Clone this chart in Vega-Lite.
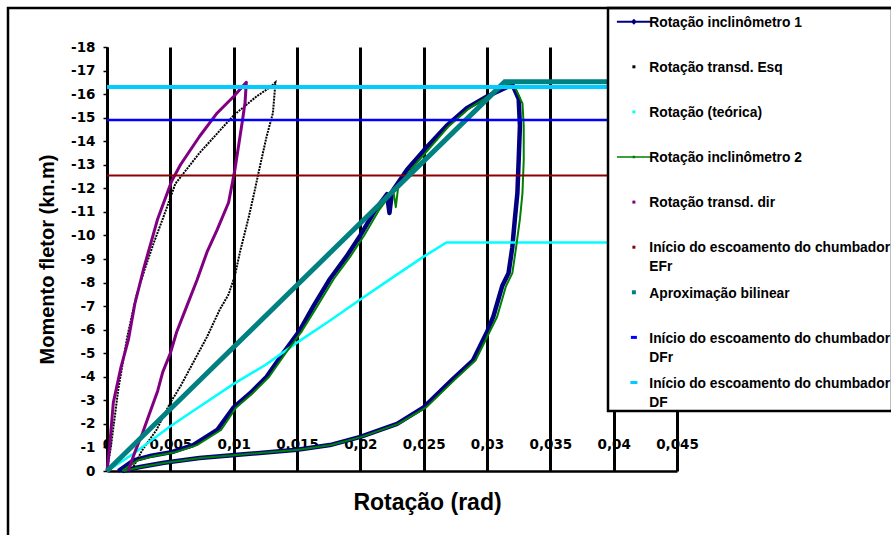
{
  "$schema": "https://vega.github.io/schema/vega-lite/v6.json",
  "width": 570,
  "height": 424,
  "autosize": {"type": "none"},
  "padding": {"left": 107, "top": 47, "right": 214, "bottom": 64},
  "background": "white",
  "config": {
    "view": {"stroke": null},
    "axis": {
      "labelFont": "DejaVu Sans", "labelFontWeight": "bold", "labelColor": "black",
      "titleFont": "Liberation Sans", "titleFontWeight": "bold", "titleColor": "black",
      "domainColor": "black", "tickColor": "black"
    },
    "legend": {
      "labelFont": "Liberation Sans", "labelFontWeight": "bold", "labelFontSize": 13.8,
      "labelColor": "black", "labelLimit": 400, "labelBaseline": "top", "labelOffset": 26.5,
      "symbolSize": 100, "symbolStrokeWidth": 0, "rowPadding": 5.1, "padding": 1,
      "strokeColor": "black", "fillColor": "white", "strokeWidth": 2.5
    },
    "style": {"guide-label": {"lineHeight": 19}}
  },
  "data": {"values": [
    {"s": "Rotação inclinômetro 1", "i": 1, "x": 0.0009, "y": 0},
    {"s": "Rotação inclinômetro 1", "i": 2, "x": 0.0021, "y": -0.45},
    {"s": "Rotação inclinômetro 1", "i": 3, "x": 0.0035, "y": -0.65},
    {"s": "Rotação inclinômetro 1", "i": 4, "x": 0.0051, "y": -0.8},
    {"s": "Rotação inclinômetro 1", "i": 5, "x": 0.0068, "y": -1.1},
    {"s": "Rotação inclinômetro 1", "i": 6, "x": 0.0087, "y": -1.74},
    {"s": "Rotação inclinômetro 1", "i": 7, "x": 0.01, "y": -2.7},
    {"s": "Rotação inclinômetro 1", "i": 8, "x": 0.0113, "y": -3.3},
    {"s": "Rotação inclinômetro 1", "i": 9, "x": 0.0126, "y": -4.0},
    {"s": "Rotação inclinômetro 1", "i": 10, "x": 0.0139, "y": -5.0},
    {"s": "Rotação inclinômetro 1", "i": 11, "x": 0.0152, "y": -5.95},
    {"s": "Rotação inclinômetro 1", "i": 12, "x": 0.0163, "y": -7.0},
    {"s": "Rotação inclinômetro 1", "i": 13, "x": 0.0176, "y": -8.15},
    {"s": "Rotação inclinômetro 1", "i": 14, "x": 0.0189, "y": -9.1},
    {"s": "Rotação inclinômetro 1", "i": 15, "x": 0.02, "y": -10.0},
    {"s": "Rotação inclinômetro 1", "i": 16, "x": 0.0212, "y": -11.1},
    {"s": "Rotação inclinômetro 1", "i": 17, "x": 0.0221, "y": -11.75},
    {"s": "Rotação inclinômetro 1", "i": 18, "x": 0.0223, "y": -10.95},
    {"s": "Rotação inclinômetro 1", "i": 19, "x": 0.0225, "y": -11.85},
    {"s": "Rotação inclinômetro 1", "i": 20, "x": 0.0237, "y": -12.8},
    {"s": "Rotação inclinômetro 1", "i": 21, "x": 0.025, "y": -13.6},
    {"s": "Rotação inclinômetro 1", "i": 22, "x": 0.0268, "y": -14.65},
    {"s": "Rotação inclinômetro 1", "i": 23, "x": 0.0284, "y": -15.4},
    {"s": "Rotação inclinômetro 1", "i": 24, "x": 0.03, "y": -15.9},
    {"s": "Rotação inclinômetro 1", "i": 25, "x": 0.0316, "y": -16.3},
    {"s": "Rotação inclinômetro 1", "i": 26, "x": 0.032, "y": -16.4},
    {"s": "Rotação inclinômetro 1", "i": 27, "x": 0.0325, "y": -15.8},
    {"s": "Rotação inclinômetro 1", "i": 28, "x": 0.0326, "y": -14.65},
    {"s": "Rotação inclinômetro 1", "i": 29, "x": 0.0325, "y": -13.2},
    {"s": "Rotação inclinômetro 1", "i": 30, "x": 0.0324, "y": -11.8},
    {"s": "Rotação inclinômetro 1", "i": 31, "x": 0.0322, "y": -10.7},
    {"s": "Rotação inclinômetro 1", "i": 32, "x": 0.032, "y": -9.5},
    {"s": "Rotação inclinômetro 1", "i": 33, "x": 0.0317, "y": -8.4},
    {"s": "Rotação inclinômetro 1", "i": 34, "x": 0.0312, "y": -7.85},
    {"s": "Rotação inclinômetro 1", "i": 35, "x": 0.0305, "y": -6.55},
    {"s": "Rotação inclinômetro 1", "i": 36, "x": 0.03, "y": -5.9},
    {"s": "Rotação inclinômetro 1", "i": 37, "x": 0.0289, "y": -4.7},
    {"s": "Rotação inclinômetro 1", "i": 38, "x": 0.0273, "y": -3.9},
    {"s": "Rotação inclinômetro 1", "i": 39, "x": 0.025, "y": -2.7},
    {"s": "Rotação inclinômetro 1", "i": 40, "x": 0.0229, "y": -2.0},
    {"s": "Rotação inclinômetro 1", "i": 41, "x": 0.02, "y": -1.45},
    {"s": "Rotação inclinômetro 1", "i": 42, "x": 0.0176, "y": -1.1},
    {"s": "Rotação inclinômetro 1", "i": 43, "x": 0.015, "y": -0.9},
    {"s": "Rotação inclinômetro 1", "i": 44, "x": 0.0101, "y": -0.68},
    {"s": "Rotação inclinômetro 1", "i": 45, "x": 0.0073, "y": -0.55},
    {"s": "Rotação inclinômetro 1", "i": 46, "x": 0.0045, "y": -0.35},
    {"s": "Rotação inclinômetro 1", "i": 47, "x": 0.0026, "y": -0.17},
    {"s": "Rotação inclinômetro 1", "i": 48, "x": 0.0012, "y": 0},

    {"s": "Rotação transd. Esq", "i": 1, "x": 0.0, "y": 0},
    {"s": "Rotação transd. Esq", "i": 2, "x": 0.0003, "y": -1.0},
    {"s": "Rotação transd. Esq", "i": 3, "x": 0.0009, "y": -3.5},
    {"s": "Rotação transd. Esq", "i": 4, "x": 0.0016, "y": -5.7},
    {"s": "Rotação transd. Esq", "i": 5, "x": 0.0023, "y": -7.4},
    {"s": "Rotação transd. Esq", "i": 6, "x": 0.003, "y": -8.6},
    {"s": "Rotação transd. Esq", "i": 7, "x": 0.0037, "y": -9.7},
    {"s": "Rotação transd. Esq", "i": 8, "x": 0.0044, "y": -10.7},
    {"s": "Rotação transd. Esq", "i": 9, "x": 0.0054, "y": -12.2},
    {"s": "Rotação transd. Esq", "i": 10, "x": 0.0073, "y": -13.5},
    {"s": "Rotação transd. Esq", "i": 11, "x": 0.01, "y": -15.1},
    {"s": "Rotação transd. Esq", "i": 12, "x": 0.0118, "y": -15.9},
    {"s": "Rotação transd. Esq", "i": 13, "x": 0.0129, "y": -16.3},
    {"s": "Rotação transd. Esq", "i": 14, "x": 0.0133, "y": -16.5},
    {"s": "Rotação transd. Esq", "i": 15, "x": 0.0131, "y": -15.2},
    {"s": "Rotação transd. Esq", "i": 16, "x": 0.0126, "y": -14.2},
    {"s": "Rotação transd. Esq", "i": 17, "x": 0.0121, "y": -13.0},
    {"s": "Rotação transd. Esq", "i": 18, "x": 0.0117, "y": -12.0},
    {"s": "Rotação transd. Esq", "i": 19, "x": 0.0112, "y": -10.8},
    {"s": "Rotação transd. Esq", "i": 20, "x": 0.0105, "y": -9.3},
    {"s": "Rotação transd. Esq", "i": 21, "x": 0.0101, "y": -8.3},
    {"s": "Rotação transd. Esq", "i": 22, "x": 0.0096, "y": -7.5},
    {"s": "Rotação transd. Esq", "i": 23, "x": 0.0089, "y": -6.85},
    {"s": "Rotação transd. Esq", "i": 24, "x": 0.0079, "y": -5.7},
    {"s": "Rotação transd. Esq", "i": 25, "x": 0.0068, "y": -4.6},
    {"s": "Rotação transd. Esq", "i": 26, "x": 0.0058, "y": -3.6},
    {"s": "Rotação transd. Esq", "i": 27, "x": 0.005, "y": -2.9},
    {"s": "Rotação transd. Esq", "i": 28, "x": 0.0039, "y": -1.74},
    {"s": "Rotação transd. Esq", "i": 29, "x": 0.0028, "y": -0.9},
    {"s": "Rotação transd. Esq", "i": 30, "x": 0.0021, "y": -0.2},
    {"s": "Rotação transd. Esq", "i": 31, "x": 0.0018, "y": 0},

    {"s": "Rotação (teórica)", "i": 1, "x": 0.0, "y": 0},
    {"s": "Rotação (teórica)", "i": 2, "x": 0.002, "y": -0.7},
    {"s": "Rotação (teórica)", "i": 3, "x": 0.005, "y": -1.9},
    {"s": "Rotação (teórica)", "i": 4, "x": 0.0075, "y": -2.8},
    {"s": "Rotação (teórica)", "i": 5, "x": 0.01, "y": -3.7},
    {"s": "Rotação (teórica)", "i": 6, "x": 0.0125, "y": -4.5},
    {"s": "Rotação (teórica)", "i": 7, "x": 0.015, "y": -5.45},
    {"s": "Rotação (teórica)", "i": 8, "x": 0.0175, "y": -6.35},
    {"s": "Rotação (teórica)", "i": 9, "x": 0.02, "y": -7.28},
    {"s": "Rotação (teórica)", "i": 10, "x": 0.0225, "y": -8.2},
    {"s": "Rotação (teórica)", "i": 11, "x": 0.025, "y": -9.1},
    {"s": "Rotação (teórica)", "i": 12, "x": 0.0268, "y": -9.7},
    {"s": "Rotação (teórica)", "i": 13, "x": 0.0405, "y": -9.7},

    {"s": "Rotação inclinômetro 2", "i": 1, "x": 0.0012, "y": 0},
    {"s": "Rotação inclinômetro 2", "i": 2, "x": 0.0024, "y": -0.45},
    {"s": "Rotação inclinômetro 2", "i": 3, "x": 0.0038, "y": -0.65},
    {"s": "Rotação inclinômetro 2", "i": 4, "x": 0.0054, "y": -0.8},
    {"s": "Rotação inclinômetro 2", "i": 5, "x": 0.0071, "y": -1.1},
    {"s": "Rotação inclinômetro 2", "i": 6, "x": 0.009, "y": -1.74},
    {"s": "Rotação inclinômetro 2", "i": 7, "x": 0.0102, "y": -2.7},
    {"s": "Rotação inclinômetro 2", "i": 8, "x": 0.0115, "y": -3.3},
    {"s": "Rotação inclinômetro 2", "i": 9, "x": 0.0128, "y": -4.0},
    {"s": "Rotação inclinômetro 2", "i": 10, "x": 0.0141, "y": -5.0},
    {"s": "Rotação inclinômetro 2", "i": 11, "x": 0.0154, "y": -5.95},
    {"s": "Rotação inclinômetro 2", "i": 12, "x": 0.0166, "y": -7.0},
    {"s": "Rotação inclinômetro 2", "i": 13, "x": 0.0179, "y": -8.15},
    {"s": "Rotação inclinômetro 2", "i": 14, "x": 0.0192, "y": -9.1},
    {"s": "Rotação inclinômetro 2", "i": 15, "x": 0.0203, "y": -10.0},
    {"s": "Rotação inclinômetro 2", "i": 16, "x": 0.0215, "y": -11.1},
    {"s": "Rotação inclinômetro 2", "i": 17, "x": 0.0226, "y": -11.9},
    {"s": "Rotação inclinômetro 2", "i": 18, "x": 0.0228, "y": -11.2},
    {"s": "Rotação inclinômetro 2", "i": 19, "x": 0.023, "y": -12.1},
    {"s": "Rotação inclinômetro 2", "i": 20, "x": 0.024, "y": -12.8},
    {"s": "Rotação inclinômetro 2", "i": 21, "x": 0.0253, "y": -13.6},
    {"s": "Rotação inclinômetro 2", "i": 22, "x": 0.027, "y": -14.65},
    {"s": "Rotação inclinômetro 2", "i": 23, "x": 0.0286, "y": -15.4},
    {"s": "Rotação inclinômetro 2", "i": 24, "x": 0.0302, "y": -15.95},
    {"s": "Rotação inclinômetro 2", "i": 25, "x": 0.0316, "y": -16.4},
    {"s": "Rotação inclinômetro 2", "i": 26, "x": 0.0322, "y": -16.3},
    {"s": "Rotação inclinômetro 2", "i": 27, "x": 0.0328, "y": -15.6},
    {"s": "Rotação inclinômetro 2", "i": 28, "x": 0.0329, "y": -14.65},
    {"s": "Rotação inclinômetro 2", "i": 29, "x": 0.0329, "y": -13.2},
    {"s": "Rotação inclinômetro 2", "i": 30, "x": 0.0328, "y": -11.8},
    {"s": "Rotação inclinômetro 2", "i": 31, "x": 0.0326, "y": -10.7},
    {"s": "Rotação inclinômetro 2", "i": 32, "x": 0.0323, "y": -9.5},
    {"s": "Rotação inclinômetro 2", "i": 33, "x": 0.032, "y": -8.4},
    {"s": "Rotação inclinômetro 2", "i": 34, "x": 0.0315, "y": -7.85},
    {"s": "Rotação inclinômetro 2", "i": 35, "x": 0.0308, "y": -6.55},
    {"s": "Rotação inclinômetro 2", "i": 36, "x": 0.0302, "y": -5.9},
    {"s": "Rotação inclinômetro 2", "i": 37, "x": 0.0291, "y": -4.7},
    {"s": "Rotação inclinômetro 2", "i": 38, "x": 0.0275, "y": -3.9},
    {"s": "Rotação inclinômetro 2", "i": 39, "x": 0.0252, "y": -2.7},
    {"s": "Rotação inclinômetro 2", "i": 40, "x": 0.023, "y": -2.0},
    {"s": "Rotação inclinômetro 2", "i": 41, "x": 0.0201, "y": -1.45},
    {"s": "Rotação inclinômetro 2", "i": 42, "x": 0.0177, "y": -1.1},
    {"s": "Rotação inclinômetro 2", "i": 43, "x": 0.0151, "y": -0.9},
    {"s": "Rotação inclinômetro 2", "i": 44, "x": 0.0102, "y": -0.68},
    {"s": "Rotação inclinômetro 2", "i": 45, "x": 0.0074, "y": -0.55},
    {"s": "Rotação inclinômetro 2", "i": 46, "x": 0.0046, "y": -0.35},
    {"s": "Rotação inclinômetro 2", "i": 47, "x": 0.0027, "y": -0.17},
    {"s": "Rotação inclinômetro 2", "i": 48, "x": 0.0013, "y": 0},

    {"s": "Rotação transd. dir", "i": 1, "x": 0.0, "y": 0},
    {"s": "Rotação transd. dir", "i": 2, "x": 0.0002, "y": -1.0},
    {"s": "Rotação transd. dir", "i": 3, "x": 0.0005, "y": -2.9},
    {"s": "Rotação transd. dir", "i": 4, "x": 0.0011, "y": -4.4},
    {"s": "Rotação transd. dir", "i": 5, "x": 0.0017, "y": -5.6},
    {"s": "Rotação transd. dir", "i": 6, "x": 0.0022, "y": -7.1},
    {"s": "Rotação transd. dir", "i": 7, "x": 0.0029, "y": -8.6},
    {"s": "Rotação transd. dir", "i": 8, "x": 0.004, "y": -10.7},
    {"s": "Rotação transd. dir", "i": 9, "x": 0.0051, "y": -12.3},
    {"s": "Rotação transd. dir", "i": 10, "x": 0.0058, "y": -13.0},
    {"s": "Rotação transd. dir", "i": 11, "x": 0.0073, "y": -14.2},
    {"s": "Rotação transd. dir", "i": 12, "x": 0.0087, "y": -15.2},
    {"s": "Rotação transd. dir", "i": 13, "x": 0.01, "y": -15.9},
    {"s": "Rotação transd. dir", "i": 14, "x": 0.011, "y": -16.5},
    {"s": "Rotação transd. dir", "i": 15, "x": 0.0109, "y": -15.65},
    {"s": "Rotação transd. dir", "i": 16, "x": 0.0107, "y": -14.9},
    {"s": "Rotação transd. dir", "i": 17, "x": 0.0105, "y": -14.2},
    {"s": "Rotação transd. dir", "i": 18, "x": 0.0101, "y": -12.8},
    {"s": "Rotação transd. dir", "i": 19, "x": 0.0096, "y": -11.4},
    {"s": "Rotação transd. dir", "i": 20, "x": 0.0087, "y": -10.25},
    {"s": "Rotação transd. dir", "i": 21, "x": 0.0079, "y": -9.3},
    {"s": "Rotação transd. dir", "i": 22, "x": 0.0071, "y": -8.1},
    {"s": "Rotação transd. dir", "i": 23, "x": 0.0063, "y": -7.0},
    {"s": "Rotação transd. dir", "i": 24, "x": 0.0055, "y": -5.9},
    {"s": "Rotação transd. dir", "i": 25, "x": 0.005, "y": -5.0},
    {"s": "Rotação transd. dir", "i": 26, "x": 0.0044, "y": -4.2},
    {"s": "Rotação transd. dir", "i": 27, "x": 0.004, "y": -3.4},
    {"s": "Rotação transd. dir", "i": 28, "x": 0.0034, "y": -2.5},
    {"s": "Rotação transd. dir", "i": 29, "x": 0.0028, "y": -1.6},
    {"s": "Rotação transd. dir", "i": 30, "x": 0.0022, "y": -0.8},
    {"s": "Rotação transd. dir", "i": 31, "x": 0.0018, "y": -0.2},
    {"s": "Rotação transd. dir", "i": 32, "x": 0.0017, "y": 0},

    {"s": "Início do escoamento do chumbador EFr", "i": 1, "x": 0.0, "y": -12.55},
    {"s": "Início do escoamento do chumbador EFr", "i": 2, "x": 0.0405, "y": -12.55},

    {"s": "Aproximação bilinear", "i": 1, "x": 0.0, "y": 0},
    {"s": "Aproximação bilinear", "i": 2, "x": 0.0314, "y": -16.52},
    {"s": "Aproximação bilinear", "i": 3, "x": 0.0405, "y": -16.52},

    {"s": "Início do escoamento do chumbador DFr", "i": 1, "x": 0.0, "y": -14.9},
    {"s": "Início do escoamento do chumbador DFr", "i": 2, "x": 0.0405, "y": -14.9},

    {"s": "Início do escoamento do chumbador DF", "i": 1, "x": 0.0, "y": -16.3},
    {"s": "Início do escoamento do chumbador DF", "i": 2, "x": 0.0405, "y": -16.3}
  ]},
  "encoding": {
    "x": {
      "field": "x", "type": "quantitative",
      "scale": {"domain": [0, 0.045], "nice": false, "zero": false},
      "axis": {
        "title": "Rotação (rad)", "titleFontSize": 23, "titleX": 320, "titleY": 20,
        "titleBaseline": "top",
        "values": [0, 0.005, 0.01, 0.015, 0.02, 0.025, 0.03, 0.035, 0.04, 0.045],
        "labelExpr": "datum.value == 0 ? '0' : replace(format(datum.value, '.3~f'), '.', ',')",
        "labelFontSize": 13.5, "labelBaseline": "middle", "labelPadding": -27,
        "labelFlush": false, "labelOverlap": false,
        "ticks": false, "tickSize": 0,
        "domainWidth": 2.5,
        "grid": true, "gridColor": "black", "gridWidth": 3, "gridOpacity": 1
      }
    },
    "y": {
      "field": "y", "type": "quantitative",
      "scale": {"domain": [0, -18], "nice": false, "zero": false},
      "axis": {
        "title": "Momento fletor (kn.m)", "titleFontSize": 20, "titleX": -60, "titleY": 212,
        "titleBaseline": "middle", "titleAngle": 270,
        "values": [0, -1, -2, -3, -4, -5, -6, -7, -8, -9, -10, -11, -12, -13, -14, -15, -16, -17, -18],
        "labelExpr": "'' + datum.value",
        "labelFontSize": 13.5, "labelPadding": 8, "labelOverlap": false, "labelFlush": false,
        "tickSize": 4, "tickWidth": 1.5, "domainWidth": 3, "grid": false
      }
    },
    "order": {"field": "i", "type": "quantitative"},
    "color": {
      "field": "s", "type": "nominal",
      "scale": {
        "domain": ["Rotação inclinômetro 1", "Rotação transd. Esq", "Rotação (teórica)", "Rotação inclinômetro 2", "Rotação transd. dir", "Início do escoamento do chumbador EFr", "Aproximação bilinear", "Início do escoamento do chumbador DFr", "Início do escoamento do chumbador DF"],
        "range": ["#000080", "#000000", "#00FFFF", "#008000", "#800080", "#8B0000", "#008080", "#0000FF", "#00CCFF"]
      },
      "legend": {
        "title": null, "orient": "none", "legendX": 501, "legendY": -39,
        "labelExpr": "indexof(datum.label, 'chumbador ') >= 0 ? [substring(datum.label, 0, indexof(datum.label, 'chumbador ') + 9), substring(datum.label, indexof(datum.label, 'chumbador ') + 10)] : [datum.label, ' ']"
      }
    }
  },
  "layer": [
    {"transform": [{"filter": {"field": "s", "equal": "Rotação inclinômetro 1"}}],
     "mark": {"type": "line", "strokeWidth": 4.5, "strokeJoin": "round"}},
    {"transform": [{"filter": {"field": "s", "equal": "Rotação transd. Esq"}}],
     "mark": {"type": "line", "strokeWidth": 2, "strokeDash": [2, 1]}},
    {"transform": [{"filter": {"field": "s", "equal": "Rotação (teórica)"}}],
     "mark": {"type": "line", "strokeWidth": 2.5}},
    {"transform": [{"filter": {"field": "s", "equal": "Rotação inclinômetro 2"}}],
     "mark": {"type": "line", "strokeWidth": 2, "strokeJoin": "round"}},
    {"transform": [{"filter": {"field": "s", "equal": "Rotação transd. dir"}}],
     "mark": {"type": "line", "strokeWidth": 3, "strokeJoin": "round"}},
    {"transform": [{"filter": {"field": "s", "equal": "Início do escoamento do chumbador EFr"}}],
     "mark": {"type": "line", "strokeWidth": 2}},
    {"transform": [{"filter": {"field": "s", "equal": "Aproximação bilinear"}}],
     "mark": {"type": "line", "strokeWidth": 5}},
    {"transform": [{"filter": {"field": "s", "equal": "Início do escoamento do chumbador DFr"}}],
     "mark": {"type": "line", "strokeWidth": 2.5}},
    {"transform": [{"filter": {"field": "s", "equal": "Início do escoamento do chumbador DF"}}],
     "mark": {"type": "line", "strokeWidth": 4}},
    {
      "transform": [{"filter": "datum.i < 0"}],
      "mark": {"type": "point", "filled": true, "opacity": 1},
      "encoding": {
        "shape": {
          "field": "s", "type": "nominal",
          "scale": {
            "domain": ["Rotação inclinômetro 1", "Rotação transd. Esq", "Rotação (teórica)", "Rotação inclinômetro 2", "Rotação transd. dir", "Início do escoamento do chumbador EFr", "Aproximação bilinear", "Início do escoamento do chumbador DFr", "Início do escoamento do chumbador DF"],
            "range": [
              "M0.2,0.96H7V1.36H0.2Z M3,1.16L3.6,0.56L4.2,1.16L3.6,1.76Z",
              "M3.3,0.86H3.9V1.46H3.3Z",
              "M3.3,0.86H3.9V1.46H3.3Z",
              "M0.2,1.01H7V1.31H0.2Z M3.35,0.91H3.85V1.41H3.35Z",
              "M3.3,0.86H3.9V1.46H3.3Z",
              "M3.3,0.86H3.9V1.46H3.3Z",
              "M3.2,0.76H4V1.56H3.2Z",
              "M3,0.86H4.2V1.46H3Z",
              "M2.9,0.86H4.3V1.46H2.9Z"
            ]
          },
          "legend": {
            "title": null, "orient": "none", "legendX": 501, "legendY": -39,
            "labelExpr": "indexof(datum.label, 'chumbador ') >= 0 ? [substring(datum.label, 0, indexof(datum.label, 'chumbador ') + 9), substring(datum.label, indexof(datum.label, 'chumbador ') + 10)] : [datum.label, ' ']"
          }
        },
        "stroke": {
          "field": "y", "type": "quantitative",
          "scale": {"domain": [0, 1], "range": ["transparent", "transparent"]},
          "legend": {
            "type": "gradient", "title": null, "orient": "none", "legendX": -99, "legendY": -39,
            "direction": "vertical", "gradientLength": 700, "gradientThickness": 1000,
            "gradientOpacity": 0, "gradientStrokeWidth": 0, "labelOpacity": 0,
            "labelExpr": "''", "tickCount": 2, "padding": 0,
            "fillColor": "transparent", "strokeColor": "black"
          }
        }
      }
    }
  ]
}
